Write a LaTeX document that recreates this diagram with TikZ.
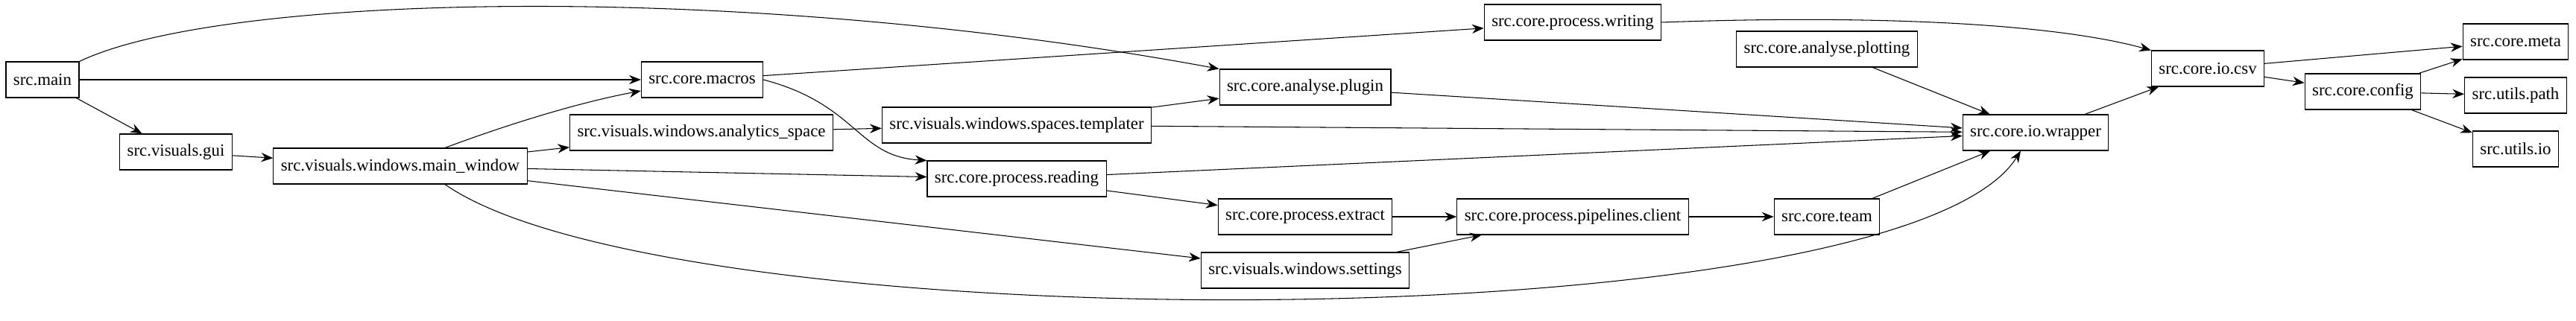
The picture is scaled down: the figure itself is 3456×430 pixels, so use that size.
\documentclass[tikz,border=0pt]{standalone}
\usepackage{fontspec}
\setmainfont{Liberation Serif}
\usetikzlibrary{arrows.meta,calc,positioning}

\begin{document}
\begin{tikzpicture}[x=0.02cm, y=-0.02cm, >={Stealth[length=9pt,width=7pt]}, semithick,
    mod/.style={draw, rectangle, minimum height=0.96cm, inner xsep=0.2cm, font=\fontsize{13}{15}\selectfont}]
    \useasboundingbox (0,0) rectangle (3456,430);

    \node[mod] (main)      at (57,107)   {src.main};
    \node[mod] (gui)       at (236,204)  {src.visuals.gui};
    \node[mod] (mainwin)   at (537,223)  {src.visuals.windows.main\_window};
    \node[mod] (macros)    at (942,107)  {src.core.macros};
    \node[mod] (analytics) at (941,178)  {src.visuals.windows.analytics\_space};
    \node[mod] (templater) at (1364,168) {src.visuals.windows.spaces.templater};
    \node[mod] (reading)   at (1364,240) {src.core.process.reading};
    \node[mod] (plugin)    at (1751,117) {src.core.analyse.plugin};
    \node[mod] (extract)   at (1751,291) {src.core.process.extract};
    \node[mod] (settings)  at (1751,363) {src.visuals.windows.settings};
    \node[mod] (writing)   at (2110,30)  {src.core.process.writing};
    \node[mod] (pipelines) at (2110,291) {src.core.process.pipelines.client};
    \node[mod] (plotting)  at (2451,66)  {src.core.analyse.plotting};
    \node[mod] (team)      at (2451,291) {src.core.team};
    \node[mod] (wrapper)   at (2731,178) {src.core.io.wrapper};
    \node[mod] (csv)       at (2962,92)  {src.core.io.csv};
    \node[mod] (config)    at (3170,123) {src.core.config};
    \node[mod] (meta)      at (3375,56)  {src.core.meta};
    \node[mod] (upath)     at (3375,128) {src.utils.path};
    \node[mod] (uio)       at (3375,200) {src.utils.io};

    % left part
    \draw[->] (main.north east) .. controls (300,-10) and (1000,-25) .. (plugin.north west);
    \draw[->] (main) -- (macros);
    \draw[->] (main) -- (gui);
    \draw[->] (gui) -- (mainwin);
    \draw[->] ($(mainwin.north)+(60,0)$) .. controls (700,160) and (790,135) .. ($(macros.west)+(0,15)$);
    \draw[->] (mainwin) -- (analytics);
    \draw[->] (mainwin) -- (reading);
    \draw[->] (mainwin) -- (settings);
    \draw[->] ($(mainwin.south)+(60,0)$) .. controls (900,460) and (2550,460) .. ($(wrapper.south)-(20,0)$);
    \draw[->] (macros) -- (writing);
    \draw[->] (macros.east) .. controls (1150,140) and (1150,210) .. (reading.north west);
    \draw[->] (analytics) -- (templater);
    % middle part
    \draw[->] (templater) -- (plugin);
    \draw[->] (templater) -- (wrapper);
    \draw[->] (plugin) -- (wrapper);
    \draw[->] (reading) -- (wrapper);
    \draw[->] (reading) -- (extract);
    \draw[->] (extract) -- (pipelines);
    \draw[->] (settings) -- (pipelines);
    \draw[->] (pipelines) -- (team);
    \draw[->] (team) -- (wrapper);
    \draw[->] (plotting) -- (wrapper);
    \draw[->] (writing.east) .. controls (2500,20) and (2750,30) .. (csv.north west);
    % right part
    \draw[->] (wrapper) -- (csv);
    \draw[->] (csv) -- (meta);
    \draw[->] (csv) -- (config);
    \draw[->] (config) -- (meta);
    \draw[->] (config) -- (upath);
    \draw[->] (config) -- (uio);
\end{tikzpicture}
\end{document}
